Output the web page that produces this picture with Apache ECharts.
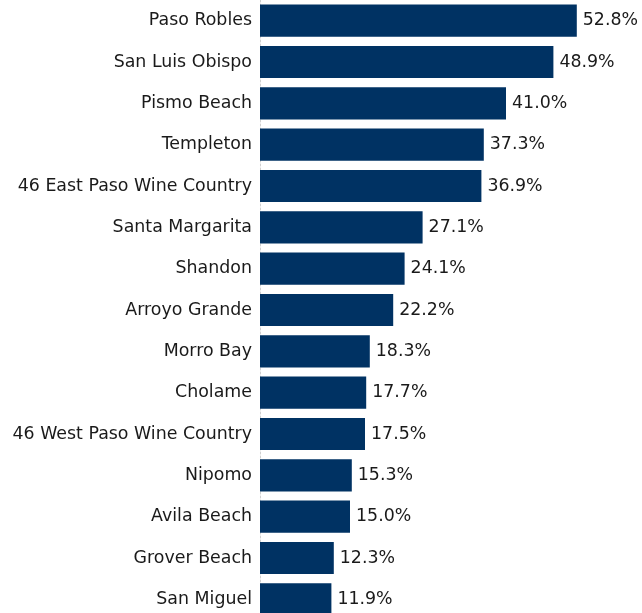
<!DOCTYPE html>
<html>
<head>
<meta charset="utf-8">
<script src="https://cdn.jsdelivr.net/npm/echarts@6/dist/echarts.min.js"></script>
<style>html,body{margin:0;padding:0;background:#fff;overflow:hidden}#c{width:642px;height:640px}</style>
</head>
<body>
<div id="c"></div>
<script>
const categories = ["Paso Robles","San Luis Obispo","Pismo Beach","Templeton","46 East Paso Wine Country","Santa Margarita","Shandon","Arroyo Grande","Morro Bay","Cholame","46 West Paso Wine Country","Nipomo","Avila Beach","Grover Beach","San Miguel"];
const values = [52.8,48.9,41.0,37.3,36.9,27.1,24.1,22.2,18.3,17.7,17.5,15.3,15.0,12.3,11.9];

const chart = echarts.init(document.getElementById('c'));
chart.setOption({
  animation: false,
  grid: {left: 260, right: 22, top: 0, height: 620, containLabel: false},
  xAxis: {type: 'value', min: 0, max: 60, show: false},
  yAxis: {
    type: 'category', data: categories, inverse: true,
    axisTick: {show: false},
    axisLine: {show: true, lineStyle: {color: '#d0d0d0', width: 1, type: [2, 2]}},
    axisLabel: {color: '#1a1a1a', fontSize: 17.4, fontFamily: 'DejaVu Sans', margin: 8}
  },
  series: [{
    type: 'bar', data: values, barCategoryGap: '22%',
    itemStyle: {color: '#003263'},
    label: {show: true, position: 'right', distance: 6, color: '#1a1a1a', fontSize: 17.4, fontFamily: 'DejaVu Sans',
      formatter: p => p.value.toFixed(1) + '%'}
  }]
});
</script>
</body>
</html>
